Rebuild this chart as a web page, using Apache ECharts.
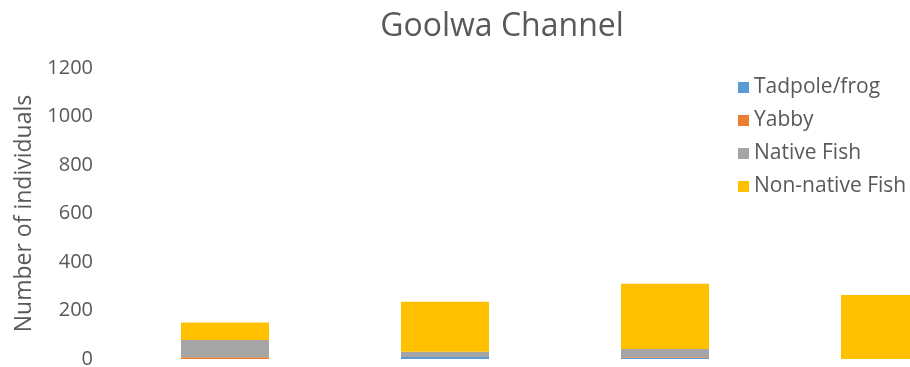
<!DOCTYPE html>
<html>
<head>
<meta charset="utf-8">
<script src="https://cdn.jsdelivr.net/npm/echarts@6/dist/echarts.min.js"></script>
<style>
  html, body { margin: 0; padding: 0; background: #fff; }
  #chart { width: 910px; height: 367px; }
</style>
</head>
<body>
<div id="chart"></div>
<script>
// Sampling sites along the channel
const categories = ['Site 1', 'Site 2', 'Site 3', 'Site 4'];

// Counts per group at each site
const tadpoleFrog = [0, 8, 4, 0];
const yabby = [7, 0, 3, 0];
const nativeFish = [71, 22, 34, 0];
const nonNativeFish = [73, 206, 269, 264];

const yTicks = { min: 0, max: 1200, interval: 200 };

const FONT = '"Open Sans", sans-serif';
const TEXT = '#595959';

const chart = echarts.init(document.getElementById('chart'), null, { renderer: 'canvas' });

function barSeries(name, data, color) {
  return {
    name: name,
    type: 'bar',
    stack: 'total',
    data: data,
    barWidth: '40%',
    itemStyle: { color: color },
    emphasis: { disabled: true }
  };
}

chart.setOption({
  animation: false,
  title: {
    text: 'Goolwa Channel',
    left: 497,
    textAlign: 'center',
    top: 6,
    textStyle: { fontFamily: FONT, fontSize: 32, fontWeight: 'normal', color: TEXT }
  },
  legend: {
    orient: 'vertical',
    left: 733,
    top: 72,
    itemWidth: 11,
    itemHeight: 11,
    itemGap: 12,
    icon: 'rect',
    textStyle: { fontFamily: FONT, fontSize: 21, lineHeight: 21, color: TEXT },
    data: ['Tadpole/frog', 'Yabby', 'Native Fish', 'Non-native Fish']
  },
  grid: { left: 115, width: 880, top: 68, bottom: 8, containLabel: false, outerBoundsMode: 'none' },
  xAxis: {
    type: 'category',
    data: categories,
    axisLine: { show: false },
    axisTick: { show: false },
    axisLabel: { show: false }
  },
  yAxis: {
    type: 'value',
    min: yTicks.min,
    max: yTicks.max,
    interval: yTicks.interval,
    name: 'Number of individuals',
    nameLocation: 'middle',
    nameGap: 72,
    nameRotate: 90,
    nameTextStyle: { fontFamily: FONT, fontSize: 23, color: TEXT },
    axisLine: { show: false },
    axisTick: { show: false },
    splitLine: { show: false },
    axisLabel: { fontFamily: FONT, fontSize: 20, color: TEXT, margin: 22, formatter: (v) => String(v) }
  },
  series: [
    barSeries('Tadpole/frog', tadpoleFrog, '#5B9BD5'),
    barSeries('Yabby', yabby, '#ED7D31'),
    barSeries('Native Fish', nativeFish, '#A5A5A5'),
    barSeries('Non-native Fish', nonNativeFish, '#FFC000')
  ]
});
</script>
</body>
</html>
